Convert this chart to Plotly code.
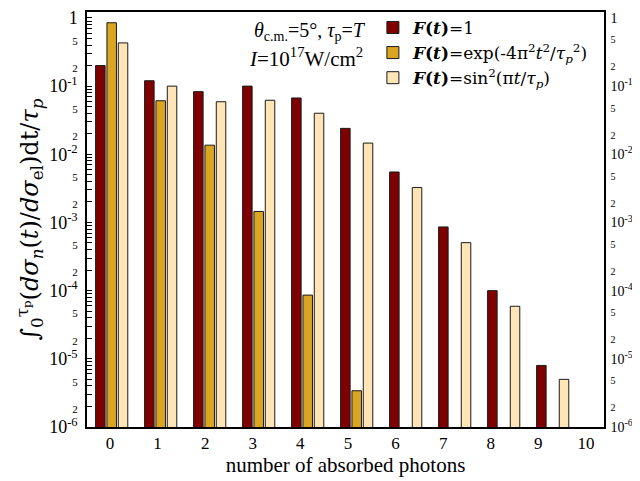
import plotly.graph_objects as go

# ---- data ----
photons = list(range(11))
const_vals = [0.2, 0.12, 0.083, 0.1, 0.067, 0.024, 0.0055, 8.6e-4, 1.0e-4, 8.0e-6, None]
gauss_vals = [0.85, 0.061, 0.0136, 0.00145, 8.6e-5, 3.4e-6, None, None, None, None, None]
sin2_vals = [0.43, 0.10, 0.059, 0.062, 0.040, 0.0146, 0.00325, 5.06e-4, 5.9e-5, 5.0e-6, None]

series_names = [
    "<b><i>F</i>(<i>t</i>)</b>=1",
    "<b><i>F</i>(<i>t</i>)</b>=exp(-4π<sup>2</sup><i>t</i><sup>2</sup>/<i>τ<sub>p</sub></i><sup>2</sup>)",
    "<b><i>F</i>(<i>t</i>)</b>=sin<sup>2</sup>(π<i>t</i>/<i>τ<sub>p</sub></i>)",
]
series_colors = ["#7f0000", "#daa520", "#ffe4b5"]

x_tick_vals = list(range(11))
x_tick_text = [str(v) for v in x_tick_vals]

decade_vals = [1, 1e-1, 1e-2, 1e-3, 1e-4, 1e-5, 1e-6]
decade_text = ["1", "10<sup>-1</sup>", "10<sup>-2</sup>", "10<sup>-3</sup>",
               "10<sup>-4</sup>", "10<sup>-5</sup>", "10<sup>-6</sup>"]
sub_mults = [5, 2]
other_mults = [3, 4, 6, 7, 8, 9]
upper_decades = [1, 1e-1, 1e-2, 1e-3, 1e-4, 1e-5]


def label_ticks(small_size):
    vals = list(decade_vals)
    texts = list(decade_text)
    for d in upper_decades:
        for m in sub_mults:
            vals.append(m * d / 10)
            texts.append(f"<span style='font-size:{small_size}px'>{m}</span>")
    return vals, texts


left_vals, left_text = label_ticks(11)
right_vals, right_text = label_ticks(10)
other_vals = [m * d / 10 for d in upper_decades for m in other_mults]

FONT = "Liberation Serif"
WIDE = "DejaVu Serif"
yrange = [-6, 0.087]

fig = go.Figure()
for vals, name, col in zip([const_vals, gauss_vals, sin2_vals], series_names, series_colors):
    fig.add_trace(go.Bar(
        x=photons, y=vals, name=name, xaxis="x2",
        marker=dict(color=col, line=dict(color="#1a1a1a", width=1)),
    ))

# empty helper traces so that the overlaid axes get drawn
for ax in ["y2", "y3", "y4"]:
    fig.add_trace(go.Scatter(x=[None], y=[None], yaxis=ax, showlegend=False,
                             hoverinfo="skip", mode="markers"))

axis_common = dict(type="log", range=yrange, showgrid=False, zeroline=False,
                   ticklabeloverflow="allow")
small_ticks = dict(ticks="inside", ticklen=5, tickwidth=1, tickcolor="black")

fig.update_layout(
    width=640, height=481,
    margin=dict(l=79, r=44, t=0, b=62),
    paper_bgcolor="white", plot_bgcolor="white",
    barmode="group", bargap=0.306, bargroupgap=0.16,
    font=dict(family=FONT, color="black"),
    showlegend=True,
    legend=dict(x=0.553, y=1.005, xanchor="left", yanchor="top",
                bgcolor="rgba(0,0,0,0)", font=dict(family=WIDE, size=17),
                itemwidth=30),
    # tick-label axis
    xaxis=dict(range=[-0.483, 10.38], tickmode="array", tickvals=x_tick_vals,
               ticktext=x_tick_text, ticks="", showline=True, linecolor="black",
               linewidth=1.5, mirror=True, showgrid=False, zeroline=False,
               tickfont=dict(size=17),
               title=dict(text="number of absorbed photons", font=dict(size=21), standoff=4)),
    # bar placement axis (bars are spaced slightly wider than the tick labels)
    xaxis2=dict(range=[-0.504, 10.047], overlaying="x", visible=False, anchor="y"),
    # left: labels + short ticks
    yaxis=dict(**axis_common, tickmode="array", tickvals=left_vals, ticktext=left_text,
               **small_ticks, showline=True, linecolor="black", linewidth=1.5,
               tickfont=dict(size=18), ticklabelstandoff=4,
               minor=dict(tickmode="array", tickvals=other_vals, **small_ticks),
               title=dict(text="∫<sub>0</sub><sup>τ<sub>p</sub></sup>(<i>dσ<sub>n</sub></i>(<i>t</i>)/<i>dσ</i><sub>el</sub>)dt/<i>τ<sub>p</sub></i>",
                          font=dict(size=24, family=WIDE), standoff=4)),
    # left: long decade ticks only
    yaxis3=dict(**axis_common, overlaying="y", side="left", anchor="x",
                tickmode="array", tickvals=decade_vals, showticklabels=False,
                ticks="inside", ticklen=9, tickwidth=1.3, tickcolor="black", showline=False),
    # right: labels + short ticks
    yaxis2=dict(**axis_common, overlaying="y", side="right", anchor="x",
                tickmode="array", tickvals=right_vals, ticktext=right_text,
                **small_ticks, showline=True, linecolor="black", linewidth=1.5,
                tickfont=dict(size=14), ticklabelstandoff=2,
                minor=dict(tickmode="array", tickvals=other_vals, **small_ticks)),
    # right: long decade ticks only
    yaxis4=dict(**axis_common, overlaying="y", side="right", anchor="x",
                tickmode="array", tickvals=decade_vals, showticklabels=False,
                ticks="inside", ticklen=9, tickwidth=1.3, tickcolor="black", showline=False),
)

fig.add_annotation(xref="paper", yref="paper", x=0.431, y=0.953, showarrow=False,
                   text="<i>θ</i><sub>c.m.</sub>=5°, <i>τ</i><sub>p</sub>=<i>T</i>",
                   font=dict(size=20), xanchor="center", yanchor="middle")
fig.add_annotation(xref="paper", yref="paper", x=0.424, y=0.89, showarrow=False,
                   text="<i>I</i>=10<sup>17</sup>W/cm<sup>2</sup>",
                   font=dict(size=21), xanchor="center", yanchor="middle")

fig.write_html("out.html")
